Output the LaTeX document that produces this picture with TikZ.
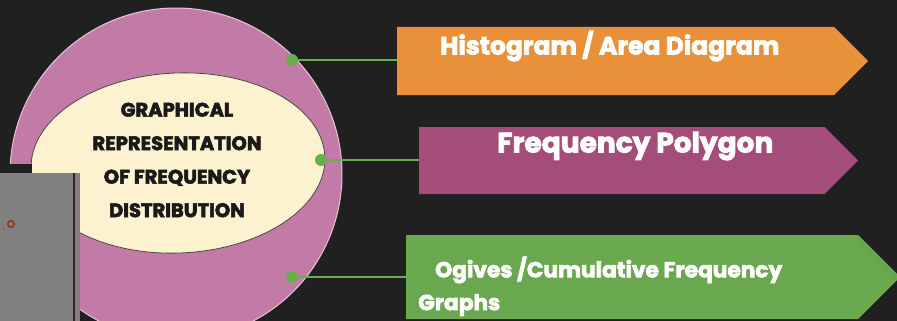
\documentclass[tikz,border=0pt]{standalone}
\usepackage{fontspec}
\setmainfont{Poppins}
\newfontfamily\heavy{Poppins}[FakeBold=3]
\usepackage{xcolor}
\usetikzlibrary{positioning,shapes.geometric,shapes.symbols}
\definecolor{bg}{HTML}{202020}
\definecolor{ink}{HTML}{1A1A1A}
\definecolor{pinkring}{HTML}{C27BA6}
\definecolor{ringline}{HTML}{E6C3D8}
\definecolor{cream}{HTML}{FDF2CF}
\definecolor{orange}{HTML}{E8913A}
\definecolor{plum}{HTML}{A54D7A}
\definecolor{leaf}{HTML}{6AA84F}
\definecolor{dotgreen}{HTML}{6AAF4F}
\definecolor{patchgrey}{HTML}{808080}
\definecolor{rust}{HTML}{9B2A1A}
\tikzset{
  banner/.style={signal,signal to=east,signal pointer angle=90,fill=#1,draw=none,inner sep=0pt,anchor=west},
  bannertext/.style={anchor=west,text=white,font=\fontsize{#1}{#1}\selectfont\heavy\bfseries,inner sep=0pt},
  knob/.style={circle,fill=dotgreen,draw=none,minimum size=12pt,inner sep=0pt},
  link/.style={draw=dotgreen,line width=2.4pt},
  hub/.style={ellipse,fill=cream,draw=ink!80,line width=0.8pt,minimum width=294pt,minimum height=180pt,inner sep=0pt}
}
\begin{document}
\begin{tikzpicture}[x=1pt,y=-1pt]
  \useasboundingbox (0,0) rectangle (897,321);
  \fill[bg] (0,0) rectangle (897,321);
  \begin{scope}
    \clip (0,0) rectangle (897,321);
    % outer ring and centre
    \fill[pinkring,draw=ringline,line width=1pt] (176,174) circle[radius=166];
    \node[hub,rotate=2.5] (core) at (178,163) {};
    \node[align=center,text=ink,font=\fontsize{19.5}{33.5}\selectfont\heavy\bfseries] (title) at (177,160)
      {GRAPHICAL\\REPRESENTATION\\OF FREQUENCY\\DISTRIBUTION};
    % three banners
    \node[banner=orange,minimum width=471pt,minimum height=68pt] (a) at (397,61) {};
    \node[banner=plum,minimum width=439pt,minimum height=67pt] (b) at (419,160.5) {};
    \node[banner=leaf,minimum width=494pt,minimum height=84pt] (c) at (406,277) {};
    \node[bannertext=25] (ta) at (440,46) {Histogram / Area Diagram};
    \node[bannertext=28] (tb) at (497,146) {Frequency Polygon};
    \node[bannertext=21.7] (tc) at (435,270) {Ogives /Cumulative Frequency};
    \node[bannertext=21.7,anchor=west] (tc2) at (418,305) {Graphs};
    % links
    \node[knob] (da) at (292,60) {};
    \node[knob] (db) at (321,160) {};
    \node[knob] (dc) at (292,277) {};
    \draw[link] (da.east) -- (da.east -| a.west);
    \draw[link] (db.east) -- (db.east -| b.west);
    \draw[link] (dc.east) -- (dc.east -| c.west);
    % pasted patch on the left
    \fill[bg] (0,164) rectangle (32,173);
    \fill[patchgrey] (0,173) rectangle (80,321);
    \draw[ink!70!rust,line width=2pt] (74,173) -- (74,321);
    \draw[rust,line width=1.4pt] (11,224) circle[radius=3.2];
    \fill[rust!80] (4,229) circle[radius=1.2];
  \end{scope}
\end{tikzpicture}
\end{document}
